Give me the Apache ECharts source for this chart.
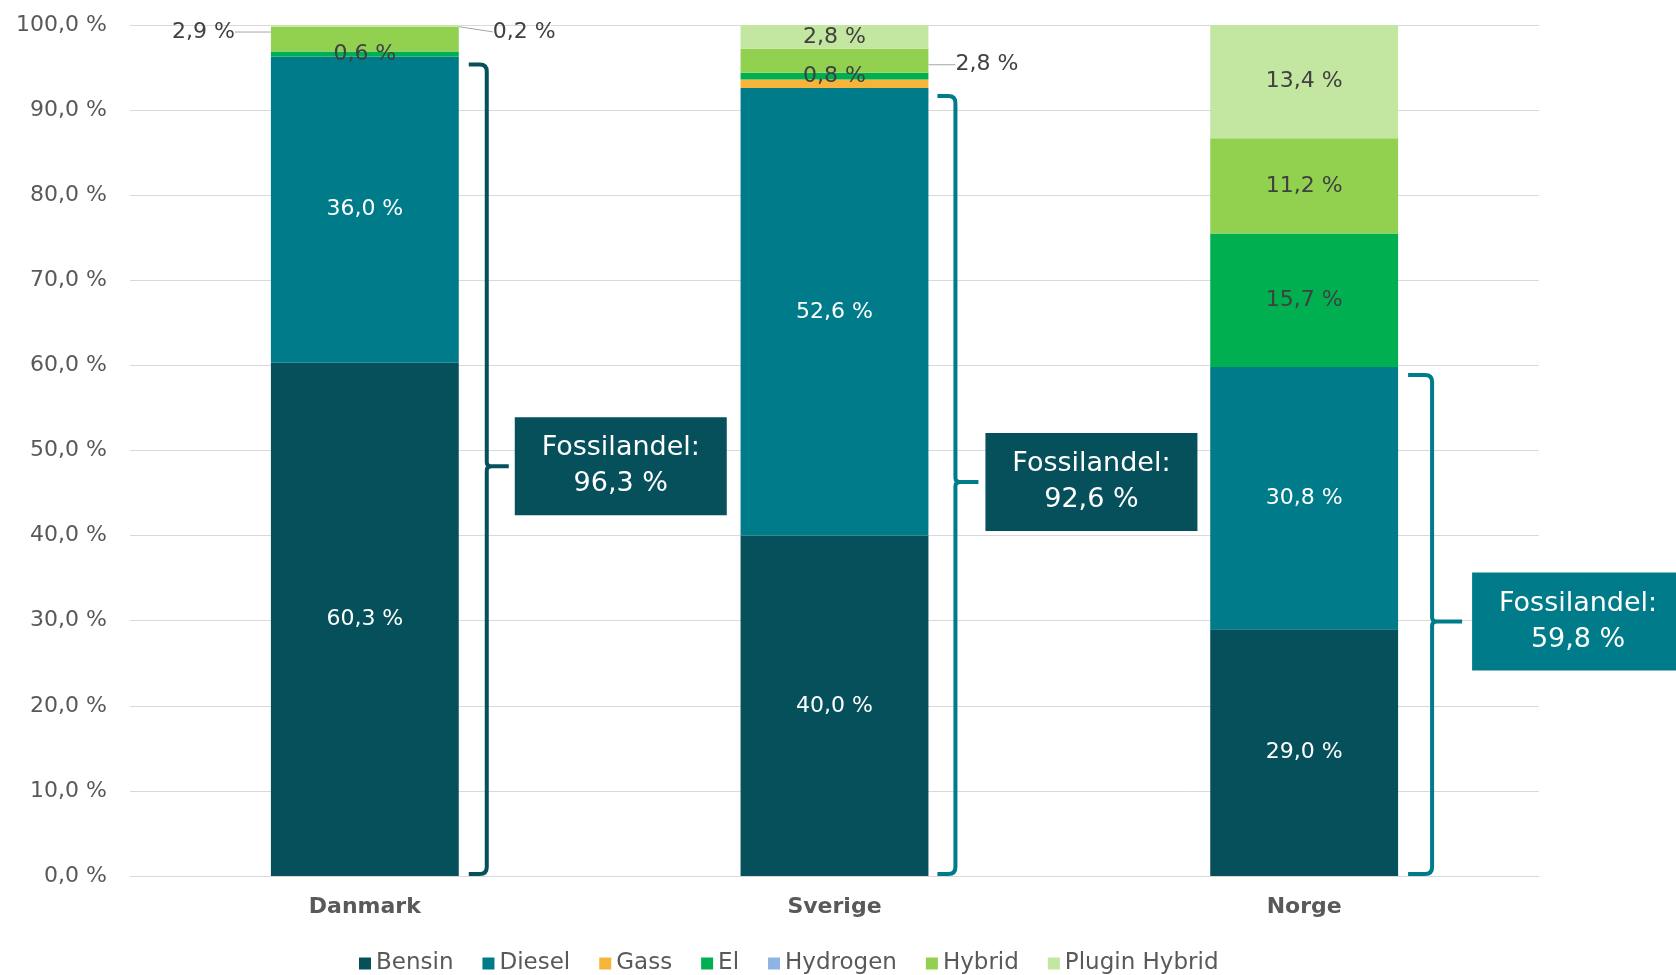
<!DOCTYPE html>
<html>
<head>
<meta charset="utf-8">
<script src="https://cdn.jsdelivr.net/npm/echarts@6/dist/echarts.min.js"></script>
<style>
html, body { margin: 0; background: #fff; }
#chart { width: 1676px; height: 975px; }
</style>
</head>
<body>
<div id="chart"></div>
<script>
// andel nye personbiler per drivstoff (%)
var categories = ['Danmark', 'Sverige', 'Norge'];
var bensin = [60.3, 40.0, 29.0];
var diesel = [36.0, 52.6, 30.8];
var gass = [0, 1.0, 0];
var el = [0.6, 0.8, 15.7];
var hydrogen = [0, 0, 0];
var hybrid = [2.9, 2.8, 11.2];
var pluginHybrid = [0.2, 2.8, 13.4];

var fossil = categories.map(function (c, i) { return bensin[i] + diesel[i]; });

var FONT = '"DejaVu Sans", sans-serif';
var DARK = '#06505b', TEAL = '#007b8a';

function fmt(v) {
    return v.toFixed(1).replace('.', ',') + ' %';
}

var defs = [
    { name: 'Bensin', data: bensin, color: DARK, text: '#fff' },
    { name: 'Diesel', data: diesel, color: TEAL, text: '#fff' },
    { name: 'Gass', data: gass, color: '#f6b53a', text: '#404040', hide: true },
    { name: 'El', data: el, color: '#00b050', text: '#404040' },
    { name: 'Hydrogen', data: hydrogen, color: '#8eb4e3', text: '#404040', hide: true },
    { name: 'Hybrid', data: hybrid, color: '#92d050', text: '#404040' },
    { name: 'Plugin Hybrid', data: pluginHybrid, color: '#c3e6a1', text: '#404040' }
];

// labels pulled outside the bar, with a guide line
var outside = {
    'Hybrid': { 0: { position: 'left', distance: 36, dy: -7 }, 1: { position: 'right', distance: 27, dy: 4 } },
    'Plugin Hybrid': { 0: { position: 'right', distance: 34, dy: 6 } }
};

var series = defs.map(function (d) {
    var out = outside[d.name] || {};
    return {
        name: d.name,
        type: 'bar',
        stack: 'total',
        barWidth: '40%',
        itemStyle: { color: d.color },
        label: {
            show: !d.hide,
            position: 'inside',
            color: d.text,
            fontFamily: FONT,
            fontSize: 22,
            formatter: function (p) { return p.value ? fmt(p.value) : ''; }
        },
        labelLine: { show: true, lineStyle: { color: '#a6a6a6', width: 1 } },
        labelLayout: function (p) {
            var o = out[p.dataIndex];
            return o ? { dy: o.dy } : {};
        },
        data: d.data.map(function (v, i) {
            var o = out[i];
            if (!o) return { value: v, labelLine: { show: false } };
            return { value: v, label: { position: o.position, distance: o.distance } };
        })
    };
});

var bracketColors = [DARK, TEAL, TEAL];
var boxColors = [DARK, DARK, TEAL];
var offsets = [[10, 28, 50, 56], [9, 27, 50, 57], [10, 34, 64, 74]];

series.push({
    type: 'custom',
    name: 'fossil',
    z: 10,
    silent: true,
    encode: { x: 0, y: 1 },
    data: fossil.map(function (f, i) { return [i, f]; }),
    renderItem: function (params, api) {
        var i = api.value(0), f = api.value(1);
        var top = api.coord([i, f]), bot = api.coord([i, 0]);
        var band = api.size([1, 0])[0];
        var xr = top[0] + band * 0.2;
        var o = offsets[i];
        var hx = xr + o[0], vx = xr + o[1], nx = xr + o[2], bx = xr + o[3];
        var ty = top[1] + 8, by = bot[1] - 2, my = (top[1] + bot[1]) / 2;
        var r = 7;
        var d = 'M' + hx + ' ' + ty + ' L' + (vx - r) + ' ' + ty +
            ' Q' + vx + ' ' + ty + ' ' + vx + ' ' + (ty + r) +
            ' L' + vx + ' ' + (my - 4) +
            ' Q' + vx + ' ' + my + ' ' + (vx + 5) + ' ' + my +
            ' L' + nx + ' ' + my +
            ' M' + (vx + 5) + ' ' + my +
            ' Q' + vx + ' ' + my + ' ' + vx + ' ' + (my + 4) +
            ' L' + vx + ' ' + (by - r) +
            ' Q' + vx + ' ' + by + ' ' + (vx - r) + ' ' + by +
            ' L' + hx + ' ' + by;
        return {
            type: 'group',
            children: [
                { type: 'path', shape: { pathData: d }, style: { stroke: bracketColors[i], lineWidth: 4, fill: null } },
                { type: 'rect', shape: { x: bx, y: my - 49, width: 212, height: 98 }, style: { fill: boxColors[i] } },
                {
                    type: 'text',
                    style: {
                        text: 'Fossilandel:\n' + fmt(f),
                        x: bx + 106, y: my,
                        align: 'center', verticalAlign: 'middle',
                        fill: '#fff', fontFamily: FONT, fontSize: 27, lineHeight: 36
                    }
                }
            ]
        };
    }
});

var opts = {
    animation: false,
    grid: { left: 130, right: 137, top: 25, bottom: 99, containLabel: false },
    legend: {
        data: defs.map(function (d) { return d.name; }),
        left: 354,
        top: 947,
        icon: 'rect',
        itemWidth: 12,
        itemHeight: 12,
        itemGap: 29,
        textStyle: { color: '#595959', fontFamily: FONT, fontSize: 23 }
    },
    xAxis: {
        type: 'category',
        data: categories,
        axisTick: { show: false },
        axisLine: { lineStyle: { color: '#d9d9d9' } },
        axisLabel: { color: '#595959', fontFamily: FONT, fontSize: 22, fontWeight: 'bold', margin: 20 }
    },
    yAxis: {
        type: 'value',
        min: 0,
        max: 100,
        interval: 10,
        axisLine: { show: false },
        axisTick: { show: false },
        splitLine: { lineStyle: { color: '#d9d9d9' } },
        axisLabel: { color: '#595959', fontFamily: FONT, fontSize: 22, margin: 23, formatter: fmt }
    },
    series: series
};

echarts.init(document.getElementById('chart')).setOption(opts);
</script>
</body>
</html>
